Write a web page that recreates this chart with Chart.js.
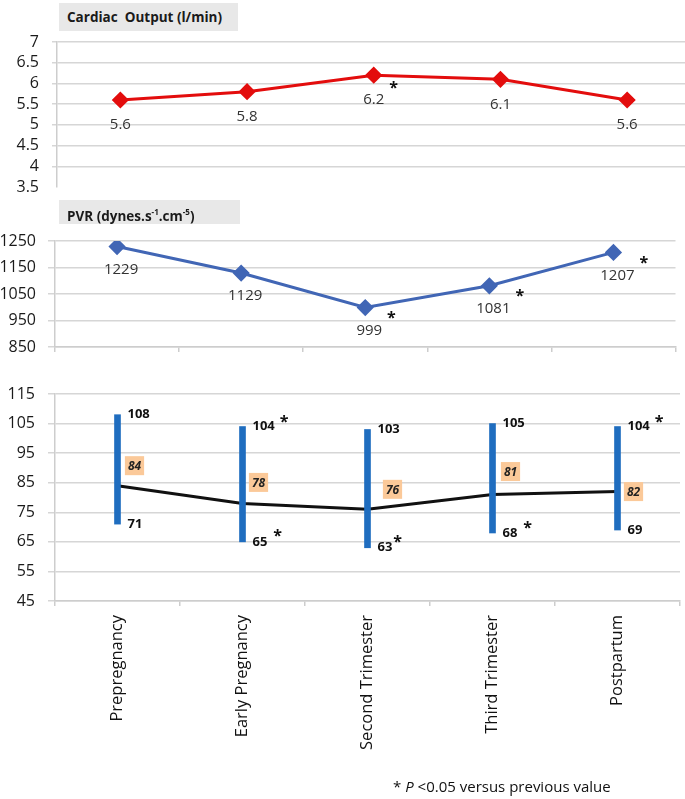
<!DOCTYPE html>
<html>
<head>
<meta charset="utf-8">
<script src="https://cdn.jsdelivr.net/npm/chart.js@4.4.1/dist/chart.umd.min.js"></script>
<style>
  html, body { margin: 0; padding: 0; background: #fff; }
  body { width: 685px; height: 799px; position: relative; overflow: hidden; font-family: "Open Sans", sans-serif; }
  .box { position: absolute; }
  .ttl { position: absolute; background: #e8e8e8; color: #1a1a1a; font: bold 13.5px "Open Sans"; box-sizing: border-box; padding-left: 8px; white-space: nowrap; }
  .ttl sup { font-size: 8px; }
  #note { position: absolute; left: 393px; top: 776px; font: 15px "Open Sans"; color: #111; white-space: nowrap; }
</style>
</head>
<body>
<div class="box" style="left:0;top:0;width:700px;height:200px"><canvas id="co"></canvas></div>
<div class="box" style="left:0;top:190px;width:685px;height:170px"><canvas id="pvr"></canvas></div>
<div class="box" style="left:0;top:370px;width:685px;height:429px"><canvas id="map"></canvas></div>
<div class="ttl" style="left:59px;top:3px;width:179px;height:28px;line-height:28px">Cardiac&nbsp; Output (l/min)</div>
<div class="ttl" style="left:59px;top:200px;width:181px;height:24px;line-height:24px">PVR (dynes.s<sup>-1</sup>.cm<sup>-5</sup>)</div>
<div id="note">* <i>P</i> &lt;0.05 versus previous value</div>
<script>
const phases = ['Prepregnancy', 'Early Pregnancy', 'Second Trimester', 'Third Trimester', 'Postpartum'];

const cardiacOutput = [5.6, 5.8, 6.2, 6.1, 5.6];
const cardiacSig = [false, false, true, false, false];
const cardiacTicks = [3.5, 4, 4.5, 5, 5.5, 6, 6.5, 7];

const pvr = [1229, 1129, 999, 1081, 1207];
const pvrSig = [false, false, true, true, true];
const pvrTicks = [850, 950, 1050, 1150, 1250];

const mapHigh = [108, 104, 103, 105, 104];
const mapLow = [71, 65, 63, 68, 69];
const mapMean = [84, 78, 76, 81, 82];
const highSig = [false, true, false, false, true];
const lowSig = [false, true, true, true, false];
const mapTicks = [45, 55, 65, 75, 85, 95, 105, 115];

const GRID = '#d6d6d6';
const AXIS = '#cdcdcd';
const FONT = 'Open Sans';

function star(ctx, x, y) {
    ctx.save();
    ctx.font = 'bold 16px "' + FONT + '"';
    ctx.textAlign = 'left';
    ctx.textBaseline = 'middle';
    ctx.fillStyle = '#111';
    ctx.fillText('*', x, y);
    ctx.restore();
}

function yAxis(ticks, width, tickLen, pad, hideFirst) {
    return {
        min: ticks[0],
        max: ticks[ticks.length - 1],
        afterBuildTicks: s => { s.ticks = ticks.map(v => ({ value: v })); },
        afterFit: s => { s.width = width; s.paddingTop = 0; s.paddingBottom = 0; },
        grid: {
            color: c => (hideFirst && c.tick && c.tick.value === ticks[0]) ? 'rgba(0,0,0,0)' : GRID,
            lineWidth: 1.5,
            tickLength: tickLen
        },
        border: { color: AXIS, width: 1.5 },
        ticks: {
            autoSkip: false, padding: pad, color: '#1a1a1a',
            font: { family: FONT, size: 16 }, callback: v => String(v)
        }
    };
}

// dessine les valeurs sous les points d'une courbe
function pointLabels(id, values, sig, dy, dx) {
    return {
        id: id,
        afterDatasetsDraw(chart) {
            const ctx = chart.ctx;
            const pts = chart.getDatasetMeta(0).data;
            ctx.save();
            ctx.font = '15px "' + FONT + '"';
            ctx.fillStyle = '#333';
            ctx.textAlign = 'center';
            ctx.textBaseline = 'middle';
            pts.forEach((p, i) => {
                const t = String(values[i]);
                const x = p.x + dx, y = p.y + dy;
                ctx.fillText(t, x, y);
                if (sig[i]) star(ctx, x + ctx.measureText(t).width / 2 + 5, y - 12);
            });
            ctx.restore();
        }
    };
}

const base = {
    responsive: true,
    maintainAspectRatio: false,
    animation: false,
    devicePixelRatio: 1,
    plugins: { legend: { display: false }, tooltip: { enabled: false } }
};

new Chart(document.getElementById('co'), {
    type: 'line',
    data: {
        labels: phases,
        datasets: [{
            data: cardiacOutput,
            borderColor: '#e30d0d',
            backgroundColor: '#e30d0d',
            borderWidth: 3,
            pointStyle: 'rectRot',
            pointRadius: 6.5
        }]
    },
    options: Object.assign({}, base, {
        layout: { padding: { top: 42, bottom: 13, left: 0, right: 4 } },
        scales: {
            x: { type: 'category', offset: true, display: false },
            y: yAxis(cardiacTicks, 57, 5, 13, true)
        }
    }),
    plugins: [pointLabels('coLabels', cardiacOutput, cardiacSig, 25, 0)]
});

new Chart(document.getElementById('pvr'), {
    type: 'line',
    data: {
        labels: phases,
        datasets: [{
            data: pvr,
            borderColor: '#4166b5',
            backgroundColor: '#4166b5',
            borderWidth: 3,
            pointStyle: 'rectRot',
            pointRadius: 6.5
        }]
    },
    options: Object.assign({}, base, {
        layout: { padding: { top: 51, bottom: 0, left: 0, right: 5 } },
        scales: {
            x: {
                offset: true,
                afterFit: s => { s.height = 13; },
                grid: { offset: true, drawOnChartArea: false, tickLength: 5, color: AXIS, lineWidth: 1.5 },
                border: { color: AXIS, width: 1.5 },
                ticks: { display: false }
            },
            y: yAxis(pvrTicks, 55, 7, 12, false)
        }
    }),
    plugins: [pointLabels('pvrLabels', pvr, pvrSig, 23, 4)]
});

const rangeLabels = {
    id: 'rangeLabels',
    afterDatasetsDraw(chart, args, opts) {
        const ctx = chart.ctx;
        const bars = chart.getDatasetMeta(0).data;
        const line = chart.getDatasetMeta(1).data;
        const y = chart.scales.y;
        ctx.save();
        ctx.textBaseline = 'middle';
        ctx.textAlign = 'left';
        ctx.fillStyle = '#111';
        ctx.font = 'bold 13px "' + FONT + '"';
        bars.forEach((b, i) => {
            const x = b.x + 10;
            const hi = String(mapHigh[i]), lo = String(mapLow[i]);
            const yh = y.getPixelForValue(mapHigh[i]);
            const yl = y.getPixelForValue(mapLow[i]);
            ctx.fillText(hi, x, yh);
            const wh = ctx.measureText(hi).width;
            ctx.fillText(lo, x, yl);
            const wl = ctx.measureText(lo).width;
            if (highSig[i]) star(ctx, x + wh + 5, yh - 4);
            if (lowSig[i]) star(ctx, x + wl + (i === 2 ? 1 : 6), yl - 5);
        });
        // étiquettes de la moyenne
        ctx.font = 'italic bold 12px "' + FONT + '"';
        ctx.textAlign = 'center';
        line.forEach((p, i) => {
            const t = String(mapMean[i]);
            const off = opts.meanOffset[i];
            const cx = p.x + off[0], cy = p.y + off[1];
            const w = ctx.measureText(t).width + 6, h = 19;
            ctx.fillStyle = '#fbc999';
            ctx.fillRect(cx - w / 2, cy - h / 2, w, h);
            ctx.fillStyle = '#222';
            ctx.fillText(t, cx, cy + 1);
        });
        ctx.restore();
    }
};

new Chart(document.getElementById('map'), {
    type: 'bar',
    data: {
        labels: phases,
        datasets: [{
            type: 'bar',
            data: mapLow.map((lo, i) => [lo, mapHigh[i]]),
            backgroundColor: '#1f6dbf',
            barThickness: 6,
            order: 1
        }, {
            type: 'line',
            data: mapMean,
            borderColor: '#111',
            borderWidth: 3,
            pointRadius: 0,
            order: 2
        }]
    },
    options: Object.assign({}, base, {
        layout: { padding: { top: 24, bottom: 0, left: 0, right: 5 } },
        plugins: {
            legend: { display: false },
            tooltip: { enabled: false },
            rangeLabels: { meanOffset: [[17, -20], [16, -21], [25, -20], [18, -23], [16, 0]] }
        },
        scales: {
            x: {
                offset: true,
                afterFit: s => { s.height = 198; },
                grid: { offset: true, drawOnChartArea: false, tickLength: 5, color: AXIS, lineWidth: 1.5 },
                border: { color: AXIS, width: 1.5 },
                ticks: {
                    autoSkip: false, minRotation: 90, maxRotation: 90, padding: 9,
                    color: '#111', font: { family: FONT, size: 16.5 }
                }
            },
            y: yAxis(mapTicks, 55, 7, 13, false)
        }
    }),
    plugins: [rangeLabels]
});
</script>
</body>
</html>
